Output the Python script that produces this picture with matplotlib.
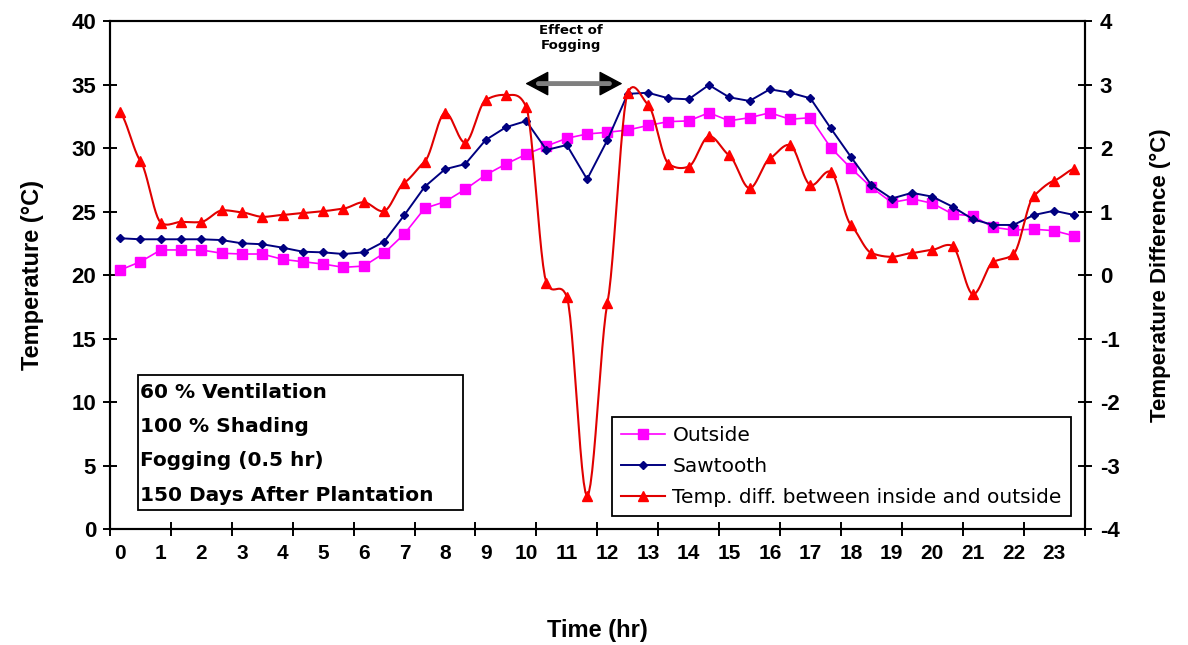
import numpy as np
import matplotlib
matplotlib.use("Agg")
import matplotlib.pyplot as plt
from matplotlib.patches import Rectangle
from matplotlib.lines import Line2D

plt.rcParams['font.family'] = ['Liberation Sans', 'DejaVu Sans']
plt.rcParams['axes.unicode_minus'] = False

# Half-hourly readings over one day
hours = np.arange(48) * 0.5

outside = [20.41, 21.06, 21.99, 21.99, 21.99, 21.73, 21.67, 21.67, 21.25, 21.06,
           20.88, 20.62, 20.72, 21.73, 23.25, 25.27, 25.79, 26.77, 27.90, 28.76,
           29.53, 30.18, 30.79, 31.13, 31.26, 31.44, 31.80, 32.10, 32.16, 32.80,
           32.17, 32.41, 32.80, 32.29, 32.41, 30.05, 28.42, 26.93, 25.73, 26.02,
           25.67, 24.82, 24.67, 23.77, 23.56, 23.62, 23.51, 23.09]

sawtooth = [22.91, 22.83, 22.83, 22.83, 22.83, 22.77, 22.51, 22.44, 22.17, 21.85,
            21.80, 21.67, 21.80, 22.64, 24.74, 26.97, 28.35, 28.76, 30.65, 31.66,
            32.15, 29.87, 30.26, 27.56, 30.65, 34.29, 34.38, 33.94, 33.86, 34.99,
            34.02, 33.73, 34.65, 34.38, 33.94, 31.58, 29.31, 27.11, 26.04, 26.49,
            26.19, 25.40, 24.41, 23.96, 23.96, 24.74, 25.08, 24.74]

temp_diff = [2.57, 1.80, 0.83, 0.84, 0.84, 1.02, 0.99, 0.92, 0.95, 0.98,
             1.01, 1.05, 1.15, 1.01, 1.46, 1.79, 2.56, 2.09, 2.76, 2.84,
             2.65, -0.12, -0.34, -3.48, -0.44, 2.87, 2.69, 1.76, 1.71, 2.19,
             1.89, 1.37, 1.84, 2.05, 1.42, 1.63, 0.79, 0.35, 0.29, 0.35,
             0.40, 0.46, -0.30, 0.21, 0.33, 1.25, 1.49, 1.68]

hour_labels = [str(h) for h in range(24)]
temp_ticks = list(range(0, 41, 5))
diff_ticks = list(range(-4, 5))
notes = ["60 % Ventilation", "100 % Shading", "Fogging (0.5 hr)",
         "150 Days After Plantation"]


def smooth_curve(x, y, n=12, tension=0.5):
    """Cardinal spline through the points, used for the smoothed line."""
    x = np.asarray(x, float)
    y = np.asarray(y, float)
    m = np.empty_like(y)
    m[1:-1] = (y[2:] - y[:-2]) / 2.0
    m[0] = y[1] - y[0]
    m[-1] = y[-1] - y[-2]
    m *= tension
    xs, ys = [], []
    t = np.linspace(0, 1, n, endpoint=False)
    h00 = 2 * t**3 - 3 * t**2 + 1
    h10 = t**3 - 2 * t**2 + t
    h01 = -2 * t**3 + 3 * t**2
    h11 = t**3 - t**2
    for i in range(len(x) - 1):
        xs.append(x[i] + t * (x[i + 1] - x[i]))
        ys.append(h00 * y[i] + h10 * m[i] + h01 * y[i + 1] + h11 * m[i + 1])
    xs.append([x[-1]])
    ys.append([y[-1]])
    return np.concatenate(xs), np.concatenate(ys)


W, H = 1188, 645
fig = plt.figure(figsize=(W / 100, H / 100), dpi=100)
left, right, top, bottom = 110, 1084.5, 21.4, 529
ax = fig.add_axes([left / W, 1 - bottom / H, (right - left) / W, (bottom - top) / H])
ax2 = ax.twinx()

magenta = '#FF00FF'
navy = '#000080'
red = '#FF0000'
red_line = '#E00000'

ax.plot(hours, outside, color=magenta, lw=1.2, marker='s', ms=6.5,
        mfc=magenta, mec=magenta, zorder=3)
ax.plot(hours, sawtooth, color=navy, lw=1.4, marker='D', ms=4.5,
        mfc=navy, mec=navy, zorder=4)
sx, sy = smooth_curve(hours, temp_diff)
ax2.plot(sx, sy, color=red_line, lw=1.5, zorder=3)
ax2.plot(hours, temp_diff, ls='none', marker='^', ms=7.5, mfc=red, mec=red, zorder=4)

ax.set_xlim(-0.25, 23.75)
ax.set_ylim(0, 40)
ax2.set_ylim(-4, 4)

# Tick marks every three readings, hour labels under each full hour
ax.set_xticks(np.arange(-0.25, 23.76, 1.5))
ax.set_xticklabels([])
ax.set_xticks(np.arange(24), hour_labels, minor=True)
ax.tick_params(axis='x', which='major', direction='inout', length=10, width=1.4)
ax.tick_params(axis='x', which='minor', length=0, pad=11, labelsize=15)
for lab in ax.get_xticklabels(minor=True):
    lab.set_fontweight('bold')

ax.set_yticks(temp_ticks)
ax.tick_params(axis='y', direction='inout', length=10, width=1.4, labelsize=16, pad=5)
ax2.set_yticks(diff_ticks)
ax2.tick_params(axis='y', direction='inout', length=10, width=1.4, labelsize=16, pad=6)
for lab in ax.get_yticklabels() + ax2.get_yticklabels():
    lab.set_fontweight('bold')

for a in (ax, ax2):
    for s in a.spines.values():
        s.set_linewidth(1.5)
        s.set_color('black')

ax.set_xlabel('Time (hr)', fontsize=17, fontweight='bold', labelpad=40)
ax.set_ylabel('Temperature (°C)', fontsize=17, fontweight='bold', labelpad=20)
ax2.set_ylabel('Temperature Difference (°C)', fontsize=16, fontweight='bold', labelpad=22)

# Fogging period marker: black heads, grey shaft
ax.annotate('', xy=(9.98, 35.1), xytext=(12.37, 35.1),
            arrowprops=dict(arrowstyle='<|-|>,head_length=0.75,head_width=0.4',
                            mutation_scale=20, lw=1, color='black',
                            shrinkA=0, shrinkB=0), zorder=5)
ax.annotate('', xy=(10.3, 35.1), xytext=(12.05, 35.1),
            arrowprops=dict(arrowstyle='-', lw=3.5, color='#7F7F7F',
                            shrinkA=0, shrinkB=0), zorder=6)
ax.text(11.1, 38.7, 'Effect of\nFogging', ha='center', va='center',
        fontsize=9.5, fontweight='bold', linespacing=1.25,
        family=['DejaVu Sans'])

# Treatment conditions box
fig.add_artist(Rectangle((138 / W, 1 - 510 / H), 325 / W, 135 / H,
                         transform=fig.transFigure, fill=True, fc='white',
                         ec='black', lw=1.3, zorder=5))
for i, line in enumerate(notes):
    fig.text(140 / W, 1 - (392 + 34.5 * i) / H, line, ha='left', va='center',
             fontsize=14.5, fontweight='bold', family=['DejaVu Sans'], zorder=6)

handles = [
    Line2D([], [], color=magenta, lw=1.2, marker='s', ms=6.5, mfc=magenta, mec=magenta),
    Line2D([], [], color=navy, lw=1.4, marker='D', ms=4.5, mfc=navy, mec=navy),
    Line2D([], [], color=red_line, lw=1.5, marker='^', ms=7.5, mfc=red, mec=red),
]
leg = ax2.legend(handles, ['Outside', 'Sawtooth', 'Temp. diff. between inside and outside'],
                 loc='upper left', bbox_to_anchor=(612 / W, 1 - 417 / H),
                 bbox_transform=fig.transFigure, borderaxespad=0,
                 prop={'family': ['DejaVu Sans'], 'size': 14.5},
                 frameon=True, fancybox=False, framealpha=1, edgecolor='black',
                 handlelength=2.2, handletextpad=0.35, labelspacing=0.6, borderpad=0.45)
leg.get_frame().set_linewidth(1.3)

fig.savefig('out.png', dpi=100)
